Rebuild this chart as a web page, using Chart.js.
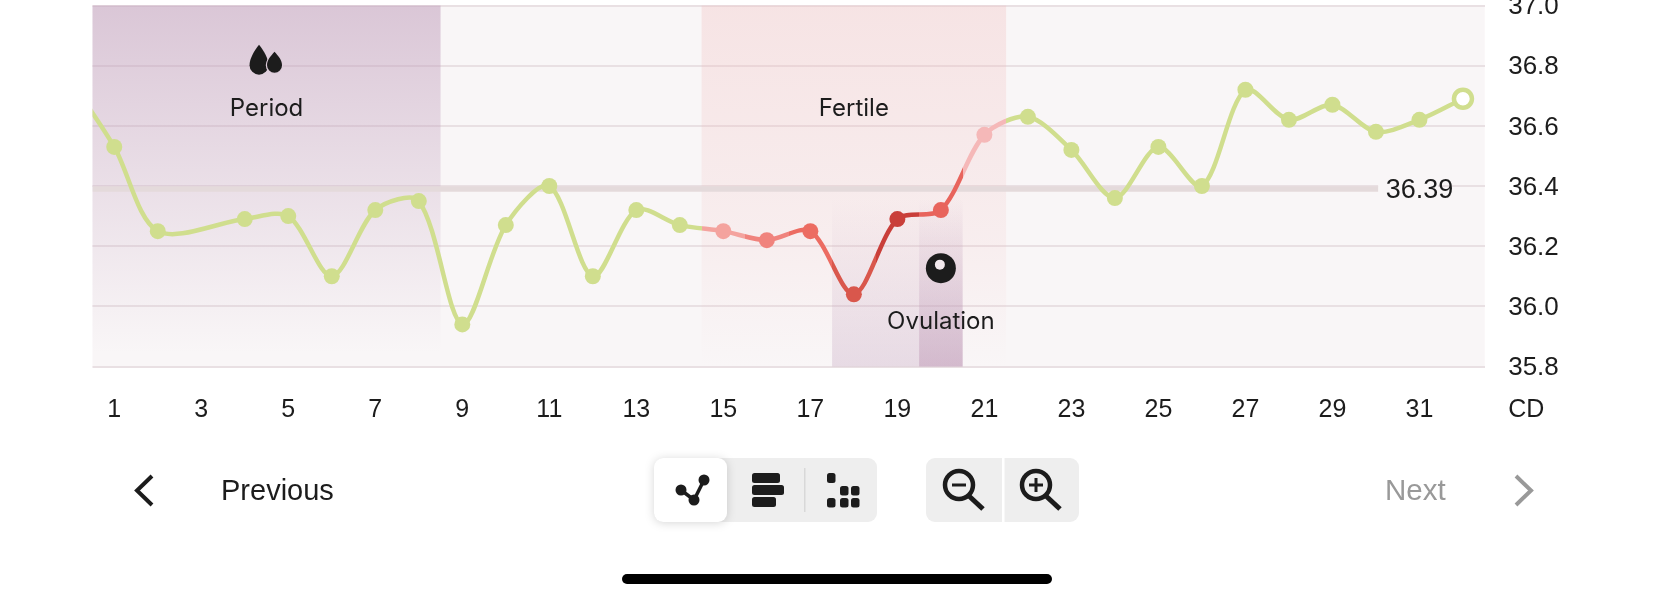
<!DOCTYPE html>
<html>
<head>
<meta charset="utf-8">
<style>
html,body{margin:0;padding:0;background:#fff;width:1673px;height:600px;overflow:hidden}
#c{position:absolute;left:0;top:0}
#ui{position:absolute;left:0;top:0}
</style>
<script src="https://cdn.jsdelivr.net/npm/chart.js@4"></script>
</head>
<body>
<canvas id="c" width="1673" height="600"></canvas>
<svg id="ui" width="1673" height="600" viewBox="0 0 1673 600" font-family="'Liberation Sans',Arial,sans-serif" font-size="29">
  <path d="M152 476 L137 490.5 L152 505" fill="none" stroke="#1c1c1c" stroke-width="4"/>
  <text x="221" y="500" fill="#1c1c1c">Previous</text>
  <g transform="translate(0,-1)">
  <rect x="654" y="459" width="223" height="64" rx="9" fill="#eeeeee"/>
  <rect x="654" y="459" width="73" height="64" rx="9" fill="#ffffff" style="filter:drop-shadow(0 1px 5px rgba(0,0,0,.16))"/>
  <path d="M681 491 L694 501 L704 481" fill="none" stroke="#1c1c1c" stroke-width="3.5"/>
  <circle cx="681" cy="491" r="5.5" fill="#1c1c1c"/><circle cx="694" cy="501" r="5.5" fill="#1c1c1c"/><circle cx="704" cy="481" r="5.5" fill="#1c1c1c"/>
  <rect x="752" y="474" width="28" height="10" rx="2.5" fill="#1c1c1c"/>
  <rect x="752" y="486" width="32" height="10" rx="2.5" fill="#1c1c1c"/>
  <rect x="752" y="498" width="24" height="10" rx="2.5" fill="#1c1c1c"/>
  <rect x="804" y="469" width="1.5" height="44" fill="#d8d8d8"/>
  <g fill="#1c1c1c">
    <rect x="827" y="474" width="8.5" height="10" rx="2.5"/>
    <rect x="840" y="487" width="8.5" height="9.5" rx="2.5"/><rect x="851" y="487" width="8.5" height="9.5" rx="2.5"/>
    <rect x="827" y="499" width="8.5" height="9.5" rx="2.5"/><rect x="840" y="499" width="8.5" height="9.5" rx="2.5"/><rect x="851" y="499" width="8.5" height="9.5" rx="2.5"/>
  </g>
  <rect x="926" y="459" width="153" height="64" rx="9" fill="#eeeeee"/>
  <rect x="1002" y="459" width="2.5" height="64" fill="#ffffff"/>
  <g fill="none" stroke="#1c1c1c">
    <circle cx="959" cy="486" r="14" stroke-width="4.5"/>
    <path d="M969 497 L983 510" stroke-width="5"/>
    <path d="M952 486 L966 486" stroke-width="3"/>
    <circle cx="1036" cy="486" r="14" stroke-width="4.5"/>
    <path d="M1046 497 L1060 510" stroke-width="5"/>
    <path d="M1029 486 L1043 486 M1036 479 L1036 493" stroke-width="3"/>
  </g>
  </g>
  <text x="1385" y="500" fill="#999999" font-size="29.5">Next</text>
  <path d="M1516 476 L1531 490.5 L1516 505" fill="none" stroke="#999999" stroke-width="4"/>
  <rect x="622" y="574" width="430" height="10" rx="5" fill="#000000"/>
</svg>
<script>
// ---- data ----
const days  = [0,1,2,3,4,5,6,7,8,9,10,11,12,13,14,15,16,17,18,19,20,21,22,23,24,25,26,27,28,29,30,31,32];
const temps = [36.75,36.53,36.25,null,36.29,36.30,36.10,36.32,36.35,35.94,36.27,36.40,36.10,36.32,36.27,36.25,36.22,36.25,36.04,36.29,36.32,36.57,36.63,36.52,36.36,36.53,36.40,36.72,36.62,36.67,36.58,36.62,36.69];
const yTicks = [35.8,36.0,36.2,36.4,36.6,36.8,37.0];
const xTickDays = [1,3,5,7,9,11,13,15,17,19,21,23,25,27,29,31];
const coverValue = 36.39;
const coverDays = [0.5,30.05];
const lastDay = 32;
const green = '#d0de8e';
const phaseEdges  = [14.5,15.5,16.5,17.5,18.5,19.5,20.5,21.5];
const phaseColors = ['#f4a39e','#f0837d','#ec6c62','#d9574c','#c93f3a','#e8645c','#f5b8b8'];
const periodBand = [0.5,8.5];
const fertileBand = [14.5,21.5];
const ovulationWing = [17.5,20.5];
const ovulationDay = [19.5,20.5];
const notes = [
  {text:'Period',   x:4.5, y:36.657},
  {text:'Fertile',  x:18,  y:36.657},
  {text:'Ovulation',x:20,  y:35.947}
];

const FONT = "'Liberation Sans',Arial,sans-serif";
const INK = '#1c1c1c';
const BG = '#f9f6f7';

function phaseColor(d){
  for(let i=0;i<phaseColors.length;i++){ if(d>phaseEdges[i]&&d<phaseEdges[i+1]) return phaseColors[i]; }
  return green;
}
function lineGradient(chart){
  const xs=chart.scales.x;
  if(!chart.chartArea||!xs) return green;
  const l=chart.chartArea.left,r=chart.chartArea.right;
  const g=chart.ctx.createLinearGradient(l,0,r,0);
  const f=v=>(xs.getPixelForValue(v)-l)/(r-l);
  g.addColorStop(0,green);
  g.addColorStop(f(phaseEdges[0]),green);
  phaseColors.forEach((c,i)=>{g.addColorStop(f(phaseEdges[i]),c);g.addColorStop(f(phaseEdges[i+1]),c);});
  g.addColorStop(f(phaseEdges[phaseEdges.length-1]),green);
  g.addColorStop(1,green);
  return g;
}
function vBand(ctx,xs,range,top,bottom,stops){
  const a=xs.getPixelForValue(range[0]),b=xs.getPixelForValue(range[1]);
  const g=ctx.createLinearGradient(0,top,0,bottom);
  stops.forEach(s=>g.addColorStop(s[0],s[1]));
  ctx.fillStyle=g;ctx.fillRect(a,top,b-a,bottom-top);
}
const decor={
  id:'decor',
  beforeDraw(chart){
    const a=chart.chartArea;
    chart.ctx.fillStyle=BG;chart.ctx.fillRect(a.left,a.top,a.right-a.left,a.bottom-a.top);
    // tick labels sit slightly under their grid lines in the reference
    chart.scales.y.getLabelItems(a).forEach(i=>{i.options.translation=[i.options.translation[0],i.options.translation[1]+1.5];});
  },
  beforeDatasetsDraw(chart){
    const {ctx,chartArea:a,scales:{x,y}}=chart;
    ctx.save();
    vBand(ctx,x,periodBand,a.top,a.bottom-14,[[0,'rgba(190,155,185,.52)'],[1,'rgba(190,155,185,0)']]);
    vBand(ctx,x,fertileBand,a.top,a.bottom,[[0,'rgba(240,185,185,.3)'],[0.65,'rgba(240,185,185,.14)'],[1,'rgba(240,185,185,0)']]);
    const t=y.getPixelForValue(36.36);
    vBand(ctx,x,ovulationWing,t,a.bottom,[[0,'rgba(190,155,185,0)'],[1,'rgba(190,155,185,.3)']]);
    vBand(ctx,x,ovulationDay,t,a.bottom,[[0,'rgba(190,155,185,0)'],[1,'rgba(190,150,180,.48)']]);
    // background behind the coverline value
    const lx=x.getPixelForValue(coverDays[1]);
    ctx.fillStyle=BG;
    ctx.fillRect(lx,y.getPixelForValue(coverValue)-14,x.getPixelForValue(lastDay)-lx-25,28);
    ctx.restore();
  },
  afterDatasetsDraw(chart){
    const {ctx,chartArea:a,scales:{x,y}}=chart;
    ctx.save();
    ctx.fillStyle=INK;
    ctx.font='24px Inter,'+FONT;
    ctx.textAlign='center';ctx.textBaseline='middle';
    notes.forEach(n=>ctx.fillText(n.text,x.getPixelForValue(n.x),y.getPixelForValue(n.y)));
    ctx.font='27px '+FONT;
    ctx.fillText(coverValue.toFixed(2),x.getPixelForValue(31),y.getPixelForValue(coverValue)+2);
    // x axis unit, in line with the y tick labels
    ctx.font='25px '+FONT;
    ctx.textAlign='left';
    ctx.fillText('CD',a.right+23.5,410);
    // ovulation icon
    const ox=x.getPixelForValue(20),oy=y.getPixelForValue(36.127);
    ctx.beginPath();ctx.arc(ox,oy,15,0,Math.PI*2);ctx.fill();
    ctx.fillStyle='#f3e9ee';ctx.beginPath();ctx.arc(ox-1,oy-3.5,5,0,Math.PI*2);ctx.fill();
    // period icon
    const dx=x.getPixelForValue(4.5),dy=y.getPixelForValue(36.82);
    const drop=(cx,tip,w,h)=>{
      const r=w/2,cy=tip+h-r;
      ctx.beginPath();
      ctx.moveTo(cx,tip);
      ctx.bezierCurveTo(cx+r*.5,tip+h*.2,cx+r,cy-r*.7,cx+r,cy);
      ctx.arc(cx,cy,r,0,Math.PI);
      ctx.bezierCurveTo(cx-r,cy-r*.7,cx-r*.5,tip+h*.2,cx,tip);
      ctx.closePath();
    };
    ctx.fillStyle=INK;
    drop(dx-7.5,dy-15,19,30);ctx.fill();
    ctx.lineWidth=2.5;ctx.strokeStyle='#ddcbd9';
    drop(dx+8,dy-8,15,21);ctx.stroke();ctx.fill();
    ctx.restore();
  }
};

new Chart(document.getElementById('c'),{
  type:'line',
  data:{datasets:[
    {
      label:'Temperature',
      data:days.map((d,i)=>({x:d,y:temps[i]})),
      spanGaps:true,
      tension:0.3,
      borderWidth:4.5,
      borderColor:c=>lineGradient(c.chart),
      pointRadius:days.map(d=>d===0?0:(d===lastDay?9:8)),
      pointBorderWidth:days.map(d=>d===lastDay?4.5:0),
      pointBorderColor:days.map(d=>phaseColor(d)),
      pointBackgroundColor:days.map(d=>d===lastDay?'#ffffff':phaseColor(d)),
      order:1
    },
    {
      label:'Coverline',
      data:coverDays.map(d=>({x:d,y:coverValue})),
      borderColor:'#e4dadb',
      borderWidth:5.5,
      pointRadius:0,
      order:2
    }
  ]},
  options:{
    responsive:false,
    animation:false,
    devicePixelRatio:1,
    events:[],
    layout:{autoPadding:false,padding:{left:92.5,top:5.5,right:0,bottom:0}},
    plugins:{legend:{display:false},tooltip:{enabled:false}},
    scales:{
      x:{
        type:'linear',min:0.5,max:32.5,
        afterBuildTicks(s){s.ticks=xTickDays.map(v=>({value:v}));},
        afterFit(s){s.height=233.5;s.paddingLeft=0;s.paddingRight=0;},
        grid:{display:false},border:{display:false},
        ticks:{autoSkip:false,maxRotation:0,padding:20.5,color:INK,font:{family:FONT,size:25}}
      },
      y:{
        position:'right',min:35.8,max:37,
        afterBuildTicks(s){s.ticks=yTicks.map(v=>({value:v}));},
        afterFit(s){s.width=188.3;s.paddingTop=0;s.paddingBottom=0;},
        grid:{color:'#e9e0e3',lineWidth:2,drawTicks:false},border:{display:false},
        ticks:{autoSkip:false,padding:23.5,crossAlign:'near',color:INK,font:{family:FONT,size:26},callback:v=>v.toFixed(1)}
      }
    }
  },
  plugins:[decor]
});
</script>
</body>
</html>
